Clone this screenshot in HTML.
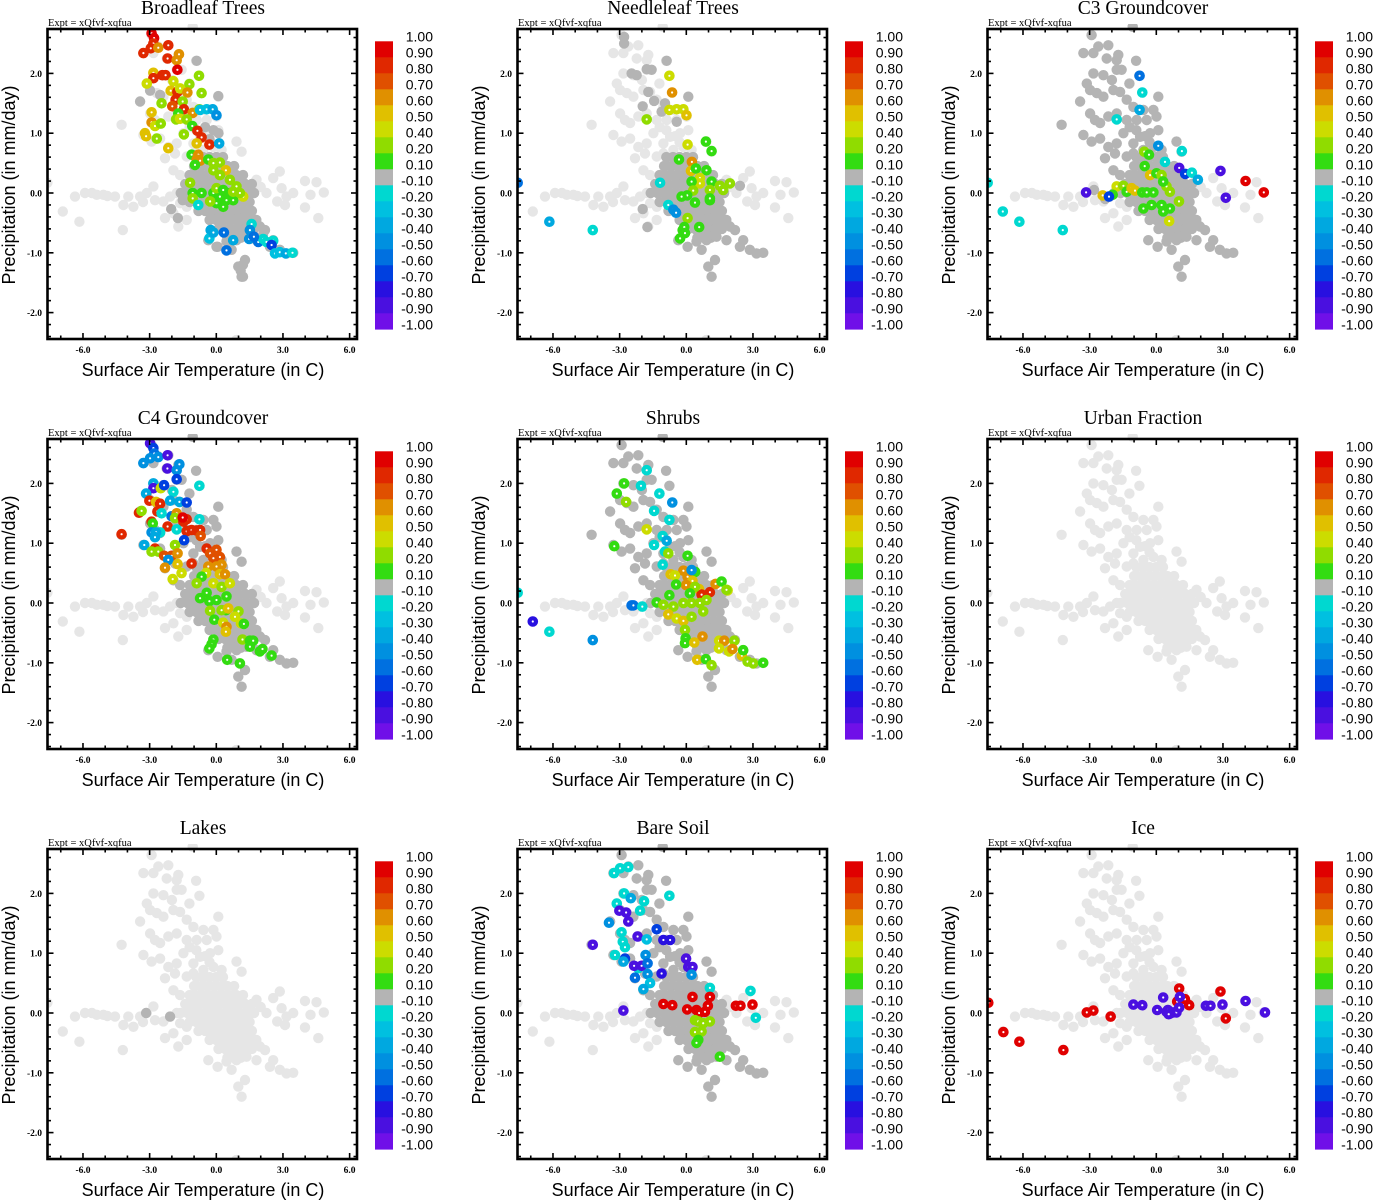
<!DOCTYPE html>
<html><head><meta charset="utf-8">
<style>
html,body{margin:0;padding:0;background:#fff;}
svg{display:block;}
.ttl{font-family:"Liberation Serif",serif;font-size:19.5px;}
.expt{font-family:"Liberation Serif",serif;font-size:10.5px;}
.tick{font-family:"Liberation Serif",serif;font-size:9.5px;font-weight:bold;}
.axt{font-family:"Liberation Sans",sans-serif;font-size:18px;}
.cbl{font-family:"Liberation Sans",sans-serif;font-size:14px;}
</style></head>
<body>
<svg id="fig" width="1373" height="1200" viewBox="0 0 1373 1200" xmlns="http://www.w3.org/2000/svg"></svg>
<script>
// ---------- shared data ----------
const panelTitles = ["Broadleaf Trees","Needleleaf Trees","C3 Groundcover","C4 Groundcover","Shrubs","Urban Fraction","Lakes","Bare Soil","Ice"];
const xTicks = [-6,-3,0,3,6];
const xTickLabels = ["-6.0","-3.0","0.0","3.0","6.0"];
const yTicks = [2,1,0,-1,-2];
const yTickLabels = ["2.0","1.0","0.0","-1.0","-2.0"];
const cbLabels = ["1.00","0.90","0.80","0.70","0.60","0.50","0.40","0.20","0.10","-0.10","-0.20","-0.30","-0.40","-0.50","-0.60","-0.70","-0.80","-0.90","-1.00"];
const cbColors = ["#e00000","#e02800","#e05000","#e09000","#e0c000","#ccdc00","#90dc00","#33dc11","#b4b4b4","#00d8d0","#00c0e0","#00a8e0","#0090e0","#0070e0","#0040e0","#2810e0","#4a10e0","#7010e8"];
const cbThresholds = [0.9,0.8,0.7,0.6,0.5,0.4,0.2,0.1,-0.1,-0.3,-0.4,-0.5,-0.6,-0.7,-0.8,-0.88,-0.95];

// cloud (temperature, precipitation)
const upperT = [-2.91,-2.83,-2.61,-2.16,-1.71,-1.78,-0.91,-2.23,-3.28,-2.83,-2.38,-2.0,-1.78,-1.56,-1.21,-0.76,-3.13,-2.98,-2.68,-2.38,-3.43,-1.93,-1.63,-1.33,-1.03,-0.58,-0.13,0.09,-2.98,-2.76,-2.53,-2.16,-1.78,-1.33,-0.88,-0.43,0.01,-4.26,-3.28,-2.91,-2.53,-2.16,-1.78,-1.86,-1.48,-1.03,-0.73,-0.28,0.09,-2.31,-1.93,-1.63,-1.33,-1.03,-0.58,-0.13,0.24,0.91,1.14,-1.06,-1.2,-0.9,-0.5,-0.3];
const upperP = [2.64,2.34,2.45,2.47,2.31,2.22,2.21,2.25,2.34,2.0,1.97,1.89,2.06,2.06,1.83,1.96,1.83,1.72,1.67,1.61,1.53,1.72,1.69,1.56,1.44,1.39,1.39,1.61,1.33,1.22,1.17,1.28,1.33,1.22,1.22,1.22,1.28,1.14,0.97,0.86,0.91,0.77,0.83,0.66,1.0,0.83,0.94,1.0,1.05,0.58,0.38,0.30,0.61,0.66,0.72,0.77,0.72,0.86,0.69,2.78,1.1,1.05,0.95,0.85];
const blobT = [-0.9,-0.6,-0.3,0,0.3, -1.0,-0.7,-0.4,-0.1,0.2,0.5,0.8, -1.2,-0.9,-0.6,-0.3,0,0.3,0.6,0.9,1.2, -1.4,-1.1,-0.8,-0.5,-0.2,0.1,0.4,0.7,1.0,1.3,1.6, -1.6,-1.3,-1.0,-0.7,-0.4,-0.1,0.2,0.5,0.8,1.1,1.4,1.7, -1.2,-0.9,-0.6,-0.3,0,0.3,0.6,0.9,1.2,1.5, -0.8,-0.5,-0.2,0.1,0.4,0.7,1.0,1.3,1.6, -0.3,0,0.3,0.6,0.9,1.2,1.5,1.8, 0.1,0.4,0.7,1.0,1.3,1.6, 0.5,0.8,1.1];
const blobP = [0.6,0.6,0.6,0.6,0.6, 0.45,0.45,0.45,0.45,0.45,0.45,0.45, 0.3,0.3,0.3,0.3,0.3,0.3,0.3,0.3,0.3, 0.15,0.15,0.15,0.15,0.15,0.15,0.15,0.15,0.15,0.15,0.15, 0,0,0,0,0,0,0,0,0,0,0,0, -0.15,-0.15,-0.15,-0.15,-0.15,-0.15,-0.15,-0.15,-0.15,-0.15, -0.3,-0.3,-0.3,-0.3,-0.3,-0.3,-0.3,-0.3,-0.3, -0.45,-0.45,-0.45,-0.45,-0.45,-0.45,-0.45,-0.45, -0.6,-0.6,-0.6,-0.6,-0.6,-0.6, -0.75,-0.75,-0.75];
const leftT = [-6.36,-5.91,-5.38,-5.08,-4.56,-4.18,-3.96,-3.73,-3.43,-3.13,-2.83,-2.76,-2.38,-2.08,-1.78,-1.63,-1.33,-6.91,-6.16,-4.21,-2.31,-1.93,-1.71,-1.33,-7.6,-5.6,-4.9,-3.3];
const leftP = [-0.06,0.0,-0.03,-0.03,-0.06,-0.2,-0.06,-0.23,-0.06,0.0,0.11,-0.12,-0.14,-0.06,0.0,-0.17,-0.23,-0.31,-0.48,-0.62,-0.42,-0.34,-0.56,-0.45,0.17,0.0,-0.05,-0.15];
const rightT = [2.56,2.86,2.94,3.16,3.46,3.99,4.51,4.24,4.84,3.99,4.59,2.74,3.09,2.26,1.81,2.0];
const rightP = [0.25,0.36,0.08,-0.06,0.0,0.2,0.18,-0.03,0.01,-0.24,-0.42,-0.14,-0.2,0.0,0.22,0.1];
const lowerT = [1.06,1.51,1.96,2.19,2.56,2.86,3.16,3.46,2.41,1.81,1.36,0.91,0.46,0.06,-0.36,0.99,1.14,1.29,0.69,0.9];
const lowerP = [-0.45,-0.51,-0.56,-0.62,-0.79,-0.95,-1.01,-1.0,-0.9,-0.79,-0.73,-0.79,-0.81,-0.9,-0.79,-1.23,-1.4,-1.12,-0.95,-2.46];
// panels with mid-grey core: 0 none, 1 centre, 2 full
const coreMode = [1,1,2,2,2,0,0,2,0];

// per-panel coloured series
const p1T=[-2.91,-2.8,-2.83,-2.95,-3.28,-2.61,-2.16,-2.19,-1.78,-1.68,-1.75,-2.83,-2.83,-2.43,-2.28,-3.13,-1.93,-1.21,-0.78,-2.05,-1.75,-1.63,-1.3,-0.66,-1.83,-1.51,-2.46,-1.98,-1.46,-1.06,-0.76,-1.71,-1.81,-2.91,-1.63,-1.33,-2.91,-2.76,-2.5,-3.21,-3.16,-2.68,-2.16,-1.08,-0.85,-0.66,-0.31,-1.46,-0.88,-1.11,-0.81,-0.88,-0.73,-0.96,-0.36,-0.13,0.16,0.43,-0.13,0.16,0.61,0.91,1.21,-1.18,-1.06,-0.66,-1.06,-0.13,0.16,0.46,0.76,0.01,0.31,0.61,0.01,0.31,0.76,-0.28,1.06,-0.81,-0.73,-0.43,-0.16,0.01,0.13,-0.25,-0.31,-0.13,0.34,0.46,0.76,1.59,1.51,1.48,1.89,2.11,2.26,2.56,2.49,2.64,2.86,3.13,3.43,1.69,-0.88,0.09,-3.43,-2.98,-2.53,-0.13,-0.5,0.1,-0.3,-1.51,-1.73,-2.03,0.01,1.2,1.1,1.2,2.1,1.7];
const p1P=[2.67,2.59,2.5,2.42,2.34,2.43,2.47,2.25,2.22,2.32,2.06,2.01,1.92,1.97,1.97,1.83,1.87,1.82,1.96,1.71,1.69,1.75,1.68,1.67,1.56,1.53,1.5,1.45,1.4,1.34,1.4,1.33,1.23,1.35,1.24,1.23,1.18,1.12,1.16,1.0,0.95,0.91,0.75,1.12,1.04,0.93,0.81,0.98,0.83,0.64,0.64,0.56,0.54,0.47,0.56,0.5,0.51,0.38,0.38,0.3,0.22,0.11,-0.06,0.17,0,0,-0.09,0,-0.06,-0.12,-0.12,0.08,0.05,0,-0.17,-0.23,0.02,-0.14,0,-0.2,1.39,1.4,1.4,1.3,0.83,-0.62,-0.76,-0.66,-0.66,-0.96,-0.79,-0.52,-0.62,-0.77,-0.82,-0.77,-0.82,-0.8,-0.87,-1.01,-0.99,-1.01,-1.0,-0.73,2.21,1.62,1.53,1.71,1.64,1.05,1.1,1.0,0.9,-0.12,-0.42,-0.27,-0.9,-1.2,-1.3,-1.4,-0.7,-0.6];
const p1V=[0.95,0.9,0.85,0.8,0.8,0.6,0.85,0.85,0.6,0.6,0.9,0.5,0.8,0.8,0.8,0.45,0.45,0.3,0.3,0.5,0.85,0.45,0.6,0.3,0.85,0.3,0.3,0.75,0.85,0.6,0.3,0.15,0.3,0.5,0.4,0.3,0.6,0.45,0.3,0.5,0.5,0.3,0.5,0.15,0.8,0.8,0.8,0.3,0.5,0.15,0.6,0.6,0.6,0.15,0.15,0.3,0.3,0.55,0.3,0.3,0.3,0.3,0.4,0.3,0.15,0.15,0.3,0.15,0.15,0.15,0.15,0.3,0.15,0.15,0.15,0.15,0.3,0.3,0.3,-0.25,-0.35,-0.4,-0.45,-0.55,-0.5,-0.5,-0.4,-0.5,-0.7,-0.7,-0.5,-0.25,-0.55,-0.6,-0.7,-0.3,-0.3,-0.25,-0.75,-0.4,-0.4,-0.45,-0.25,-0.65,0,0,0,0,0,0,0,0,0,0,0,0,0,0,0,0,0,0];

const p2T=[-0.76,-0.64,-0.76,-0.43,-0.13,0.01,-1.78,0.06,0.88,1.14,-0.33,0.25,0.21,0.43,0.91,0.61,0.61,0.24,1.14,1.51,1.96,1.66,1.06,0.31,0.04,-0.21,0.39,1.06,0.06,0.58,-0.16,-0.09,-0.28,-0.06,1.06,-7.59,-6.16,-4.21,-1.18,-0.81,-0.58,-0.46,-2.8,-2.8,-0.88,-2.46,-2.23,-1.78,-1.56,-1.71,-1.45,-1.96,-0.96,-1.11,0.09,-0.43,-1.96,-1.75,2.41];
const p2P=[1.96,1.68,1.39,1.4,1.4,1.3,1.23,0.81,0.86,0.7,0.56,0.52,0.37,0.41,0.38,0.25,0.16,0.19,0.19,0.12,0.16,0.05,0.05,0.04,-0.04,-0.06,-0.16,-0.12,-0.42,-0.57,-0.62,-0.57,-0.76,-0.67,-0.09,0.17,-0.48,-0.62,0.17,-0.2,-0.28,-0.33,2.61,2.5,2.21,2.0,1.97,2.07,2.06,1.69,1.54,1.45,1.5,1.36,1.61,1.19,-0.27,-0.57,0.12];
const p2V=[0.45,0.6,0.45,0.45,0.45,0.55,0.3,0.45,0.15,0.15,0.15,0.6,0.5,0.15,0.15,0.4,0.4,0.15,0.15,0.3,0.3,0.3,0.3,0.3,0.15,0.15,0.15,0.15,0.3,0.15,0.15,0.15,0.15,0.15,0.15,-0.7,-0.5,-0.3,-0.25,-0.3,-0.55,-0.6,0,0,0,0,0,0,0,0,0,0,0,0,0,0,0,0,0];

const p3T=[-0.75,-0.63,-0.75,-1.78,0.09,1.15,-0.54,-0.33,-0.52,0.39,1.03,1.3,1.6,1.87,2.89,4.02,4.84,3.13,-3.16,-7.59,-6.91,-6.16,-4.21,-2.41,-1.78,-1.48,-1.96,-1.33,-1.11,-0.96,-0.63,-0.28,0.01,0.24,0.46,0.61,0.31,-0.43,-0.13,-0.58,-0.21,0.24,0.31,0.61,1.02,0.58,-2.13,-2.8,-2.3,-1.9,-1.5];
const p3P=[1.96,1.68,1.39,1.23,0.79,0.7,0.69,0.64,0.45,0.52,0.42,0.32,0.34,0.22,0.37,0.2,0.01,-0.08,0.01,0.17,-0.31,-0.48,-0.62,-0.04,0.11,0.12,-0.03,0.02,0.08,0.04,0.01,0.3,0.33,0.3,0.11,0.02,0.19,0.01,0.01,-0.26,-0.2,-0.2,-0.31,-0.26,-0.14,-0.47,-0.06,0.05,-0.1,0.0,0.05];
const p3V=[-0.65,-0.25,-0.45,-0.3,-0.55,-0.25,0.3,0.15,0.15,-0.25,-0.9,-0.75,-0.25,-0.5,-0.9,0.95,0.95,-0.9,-0.9,-0.25,-0.25,-0.25,-0.3,0.55,0.45,0.3,0.15,0.15,0.55,0.55,0.15,0.55,0.15,0.3,0.3,0.3,0.15,0.15,0.15,0.15,0.15,0.15,0.15,0.15,0.3,0.45,-0.8,0,0,0,0];

const p4T=[-2.98,-2.83,-2.79,-2.98,-2.61,-3.28,-2.19,-2.2,-1.78,-1.66,-1.78,-2.83,-2.83,-2.5,-2.35,-1.93,-0.76,-3.16,-3.01,-2.71,-2.53,-2.08,-1.66,-1.33,-3.48,-3.36,-2.65,-2.46,-2.01,-1.78,-1.86,-1.48,-1.33,-0.76,-2.91,-2.86,-2.19,-1.78,-2.91,-2.53,-2.71,-2.76,-4.26,-1.33,-1.11,-0.88,-0.73,-0.7,-1.45,-3.24,-2.76,-1.86,-2.91,-2.61,-2.35,-2.01,-1.74,-2.16,-0.43,-0.28,0.01,-0.13,0.16,0.24,-1.11,-1.74,-2.31,-0.36,0.01,0.16,0.39,-0.46,-1.56,-1.96,-0.66,-0.88,-0.13,0.24,0.61,-0.43,-0.73,-0.31,0.01,0.46,0.43,0.24,0.54,1.0,-0.28,0.84,1.11,1.24,-0.09,0.31,0.46,0.43,1.18,1.51,1.66,1.51,-0.13,-0.21,-0.31,1.96,2.08,2.49,0.49,1.06,-1.51];
const p4P=[2.67,2.59,2.5,2.42,2.44,2.34,2.47,2.25,2.22,2.32,2.07,2.0,1.92,1.92,1.97,1.86,1.96,1.83,1.71,1.69,1.66,1.71,1.69,1.68,1.51,1.54,1.53,1.5,1.45,1.5,1.42,1.36,1.4,1.4,1.36,1.33,1.28,1.23,1.18,1.18,1.18,1.1,1.15,1.2,1.22,1.21,1.22,1.12,1.05,0.97,0.91,0.97,0.86,0.86,0.79,0.79,0.83,0.72,0.91,0.83,0.89,0.75,0.77,0.64,0.66,0.65,0.59,0.61,0.61,0.48,0.48,0.5,0.5,0.4,0.44,0.33,0.33,0.27,0.33,0.17,0.08,0.03,0.05,0.11,-0.12,-0.12,-0.09,-0.14,-0.13,-0.23,-0.34,-0.35,-0.28,-0.33,-0.4,-0.48,-0.61,-0.63,-0.63,-0.73,-0.61,-0.69,-0.76,-0.81,-0.77,-0.88,-0.95,-1.01,1.43];
const p4V=[-0.9,-0.75,-0.7,-0.6,-0.6,-0.55,-0.9,-0.9,-0.6,-0.6,-0.75,-0.5,-0.9,0.45,-0.8,-0.3,-0.25,-0.5,0.85,0.5,0.8,-0.45,-0.5,-0.8,0.85,0.3,0.85,-0.3,-0.7,0.6,0.3,0.8,0.85,-0.25,0.85,0.15,0.8,-0.3,-0.6,-0.3,-0.5,-0.45,0.85,0.8,0.8,0.8,0.8,0.75,-0.8,-0.5,0.85,0.3,0.3,0.3,0.75,0.75,0.6,-0.6,0.85,0.75,0.75,0.75,0.75,0.6,0.85,0.5,0.6,0.6,0.6,0.55,0.6,0.45,0.45,0.45,0.15,0.3,0.45,0.3,0.45,0.15,0.15,0.15,0.15,0.15,0.15,0.3,0.5,0.3,0.3,0.45,0.45,0.15,0.15,0.45,0.6,0.5,0.3,0.15,0.15,0.15,0.15,0.15,0.15,0.15,0.15,0.15,0.15,0.15,0.9];

const p5T=[-1.78,-2.8,-3.13,-2.04,-1.21,-2.71,-0.63,-1.45,-0.76,-1.78,-1.06,-0.88,-1.45,-3.24,-0.96,-0.81,0.06,-1.06,-0.13,0.4,-0.7,-0.51,0.06,0.28,-0.01,0.58,0.69,1.06,1.32,1.59,1.86,-0.46,-0.76,0.39,0.16,-1.33,-1.03,-0.58,-0.13,0.24,0.61,0.91,-0.81,-0.43,-0.13,0.24,0.76,-0.06,-0.03,0.73,-0.06,0.36,1.48,1.71,2.16,1.47,1.93,2.08,2.5,2.56,2.76,3.01,3.46,0.49,0.88,1.14,1.81,-7.59,-6.91,-6.16,-4.21,-2.46,-2.38,-1.98,0.24];
const p5P=[2.22,2.0,1.83,1.96,1.83,1.69,1.68,1.54,1.39,1.23,1.12,1.04,0.97,0.95,0.86,0.83,0.79,0.64,0.54,0.52,0.48,0.46,0.44,0.37,0.3,0.23,0.14,0.18,0.32,0.36,0.21,0.31,0.13,0.27,0.16,0.01,-0.03,-0.06,0,0,0,0.05,-0.19,-0.26,-0.3,-0.23,-0.14,-0.45,-0.59,-0.56,-0.67,-0.66,-0.63,-0.63,-0.63,-0.76,-0.81,-0.77,-0.88,-0.79,-0.98,-1.01,-1.0,-0.95,-0.94,-1.04,0.22,0.17,-0.31,-0.48,-0.62,-0.04,-0.04,-0.06,0.55];
const p5V=[-0.25,0.15,0.15,-0.25,-0.3,0.3,-0.6,-0.25,-0.25,0.45,-0.3,-0.5,-0.3,0.15,-0.25,0.3,0.15,-0.3,0.6,0.15,0.5,0.45,0.6,0.5,0.6,0.5,0.85,0.85,0.6,0.15,0.45,0.15,0.15,0.3,0.15,0.15,0.3,0.3,0.3,0.3,0.3,0.3,0.5,0.4,0.5,0.3,0.3,0.3,0.15,0.6,0.15,0.5,0.45,0.6,0.3,0.4,0.4,0.6,0.55,0.15,0.3,0.3,0.15,0.5,0.15,0.3,0.3,-0.25,-0.85,-0.25,-0.55,-0.7,-0.7,-0.25,-0.6];

const p7T=[-3.16,-2.08];
const p7P=[0.0,-0.06];
const p7V=[0,0];

const p8T=[-3.25,-2.98,-2.61,-2.8,-2.5,-1.9,-3.13,-2.08,-0.76,-3.01,-2.71,-2.61,-3.48,-2.91,-2.86,-2.76,-4.21,-2.19,-1.78,-1.33,-1.03,-0.73,-3.21,-2.76,-2.83,-2.16,-2.35,-2.01,-1.83,-1.74,-2.31,-1.74,-1.63,-1.93,-1.11,-0.01,0.09,0.28,0.24,1.06,2.89,3.13,-2.83,-1.03,-0.63,0.04,0.28,1.06,0.97,0.46,0.58,0.84,2.23,2.44,2.98,0.39,0.54,1.06,0.39,0.69,0.54,0.46,1.51,0.76];
const p8P=[2.34,2.42,2.44,2.0,1.92,1.87,1.83,1.71,1.96,1.71,1.68,1.53,1.51,1.35,1.19,1.1,1.14,1.28,1.23,1.4,1.22,1.22,0.97,0.91,0.86,0.75,0.79,0.79,0.97,0.83,0.59,0.65,0.5,0.4,0.66,0.91,0.77,0.77,0.64,0.42,0.37,-0.08,0.04,0.15,0.13,0.06,0.27,0.27,0.12,0.05,0.0,0.02,0.12,0.12,0.14,-0.12,-0.14,-0.14,-0.32,-0.31,-0.45,-0.5,-0.73,-0.17];
const p8V=[-0.25,-0.25,-0.25,-0.3,-0.5,-0.25,-0.25,-0.25,-0.25,-0.9,-0.9,-0.9,-0.6,-0.25,-0.25,-0.3,-0.9,-0.9,-0.4,-0.8,-0.85,-0.85,-0.3,-0.8,-0.5,-0.25,-0.9,-0.9,-0.55,-0.7,-0.65,-0.55,-0.4,-0.45,-0.85,-0.9,-0.9,-0.9,-0.6,-0.25,-0.25,-0.25,-0.9,0.95,0.95,0.95,0.95,0.95,0.95,0.95,0.95,0.95,0.95,0.95,0.95,0.3,0.3,0.3,0.3,0.3,0.15,0.15,0.15,0.3];

const p9T=[-7.56,-6.88,-6.16,-4.18,-3.13,-2.83,-2.05,1.03,0.94,1.29,1.48,2.89,3.13,-1.03,-0.63,0.31,0.04,0.46,0.61,0.76,0.91,1.03,1.06,2.23,2.44,2.98,4.02,4.89,0.52,0.56];
const p9P=[0.17,-0.32,-0.48,-0.62,0.01,0.04,-0.06,0.41,0.19,0.23,0.13,0.36,-0.09,0.14,0.13,0.26,0.05,0.02,-0.01,0.01,0.01,0.09,0.27,0.12,0.12,0.14,0.2,0.01,0.05,-0.02];
const p9V=[0.95,0.95,0.95,0.95,0.95,0.95,0.95,0.95,0.95,0.95,0.95,0.95,0.95,-0.95,-0.95,-0.95,-0.95,-0.95,-0.95,-0.95,-0.95,-0.95,-0.95,-0.95,-0.95,-0.95,-0.95,-0.95,-0.95,-0.95];

const panelT=[p1T,p2T,p3T,p4T,p5T,[],p7T,p8T,p9T];
const panelP=[p1P,p2P,p3P,p4P,p5P,[],p7P,p8P,p9P];
const panelV=[p1V,p2V,p3V,p4V,p5V,[],p7V,p8V,p9V];

// ---------- drawing ----------
const NS="http://www.w3.org/2000/svg";
const svg=document.getElementById('fig');
const PX0=47.5,PX1=357,PY0=29,PY1=339;
function sx(t){return 216.3+t*22.22;}
function sy(p){return 193-p*59.8;}
function mk(tag,attrs,parent){const e=document.createElementNS(NS,tag);for(const k in attrs)e.setAttribute(k,attrs[k]);parent.appendChild(e);return e;}
function colorFor(v){for(let i=0;i<cbThresholds.length;i++){if(v>=cbThresholds[i])return cbColors[i];}return cbColors[17];}
function ring(g,t,p,col,solid){
  const c = solid
    ? mk('circle',{cx:sx(t).toFixed(1),cy:sy(p).toFixed(1),r:5.2,fill:col},g)
    : mk('circle',{cx:sx(t).toFixed(1),cy:sy(p).toFixed(1),r:3.2,fill:'#fff',stroke:col,'stroke-width':4.2},g);
  
  
}
const cloudT=[].concat(upperT,blobT,leftT,rightT,lowerT);
const cloudP=[].concat(upperP,blobP,leftP,rightP,lowerP);

for(let k=0;k<9;k++){
  const col=k%3,row=Math.floor(k/3);
  const g=mk('g',{transform:`translate(${col*470},${row*410})`},svg);
  
  
  const title=mk('text',{x:203,y:14,'text-anchor':'middle',class:'ttl'},g);
  title.textContent=panelTitles[k];
  
  
  const ex=mk('text',{x:48,y:26,class:'expt'},g);
  ex.textContent='Expt = xQfvf-xqfua';
  
  
  const cp=mk('clipPath',{id:'clip'+k},g);
  mk('rect',{x:PX0,y:PY0-5,width:PX1-PX0,height:PY1-PY0+5},cp);
  const pts=mk('g',{'clip-path':`url(#clip${k})`},g);
  
  
  for(let i=0;i<cloudT.length;i++) ring(pts,cloudT[i],cloudP[i],'#e6e6e6',true);
  if(coreMode[k]>0){
    const ct = coreMode[k]===2 ? [].concat(upperT,blobT,lowerT.slice(0,19)) : [].concat(blobT,lowerT.slice(0,19));
    const cpv = coreMode[k]===2 ? [].concat(upperP,blobP,lowerP.slice(0,19)) : [].concat(blobP,lowerP.slice(0,19));
    for(let i=0;i<ct.length;i++) ring(pts,ct[i],cpv[i],'#b4b4b4',true);
  }
  const T=panelT[k],P=panelP[k],V=panelV[k];
  for(let i=0;i<T.length;i++) if(Math.abs(V[i])<0.1) ring(pts,T[i],P[i],'#b4b4b4',true);
  for(let i=0;i<T.length;i++) if(Math.abs(V[i])>=0.1) ring(pts,T[i],P[i],colorFor(V[i]),false);
  const fr=mk('rect',{x:PX0,y:PY0,width:PX1-PX0,height:PY1-PY0,fill:'none',stroke:'#000','stroke-width':2.6},g);
  
  
  for(let t=-7;t<=6;t++){
    const L=(t%3===0)?6:3.5;const x=sx(t);
    mk('line',{x1:x,y1:PY1,x2:x,y2:PY1-L,stroke:'#000','stroke-width':1.6},g);
    mk('line',{x1:x,y1:PY0,x2:x,y2:PY0+L,stroke:'#000','stroke-width':1.6},g);
  }
  for(let i=0;i<xTicks.length;i++){
    const tl=mk('text',{x:sx(xTicks[i]),y:353,'text-anchor':'middle',class:'tick'},g);
    tl.textContent=xTickLabels[i];
    
    
  }
  for(let j=-12;j<=13;j++){
    const p=j*0.2;const y=sy(p);const L=(j%5===0)?6:3.5;
    mk('line',{x1:PX0,y1:y,x2:PX0+L,y2:y,stroke:'#000','stroke-width':1.6},g);
    mk('line',{x1:PX1,y1:y,x2:PX1-L,y2:y,stroke:'#000','stroke-width':1.6},g);
  }
  for(let i=0;i<yTicks.length;i++){
    const tl=mk('text',{x:42,y:sy(yTicks[i])+3.5,'text-anchor':'end',class:'tick'},g);
    tl.textContent=yTickLabels[i];
    
    
  }
  const xt=mk('text',{x:203,y:376,'text-anchor':'middle',class:'axt'},g);
  xt.textContent='Surface Air Temperature (in C)';
  
  
  const yt=mk('text',{x:0,y:0,'text-anchor':'middle',class:'axt',transform:'translate(15,185) rotate(-90)'},g);
  yt.textContent='Precipitation (in mm/day)';
  
  
  const cb=mk('g',{},g);
  
  
  for(let i=0;i<18;i++){
    mk('rect',{x:375,y:41.3+i*16,width:18,height:16.3,fill:cbColors[i]},cb);
  }
  for(let i=0;i<cbLabels.length;i++){
    const cl=mk('text',{x:433,y:(36.7+i*16)+5,'text-anchor':'end',class:'cbl'},cb);
    cl.textContent=cbLabels[i];
    
    
  }
}
</script>
</body></html>
